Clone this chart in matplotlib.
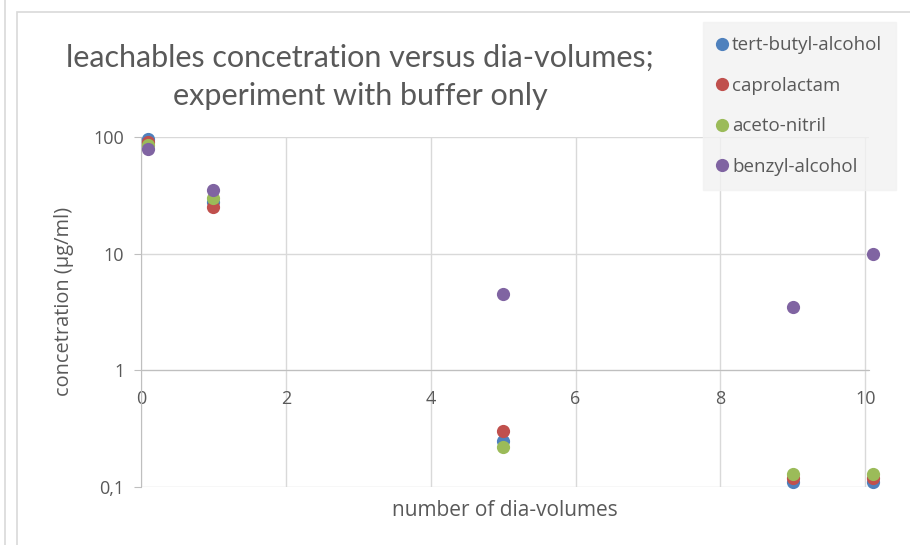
import matplotlib
matplotlib.use("Agg")
import matplotlib.pyplot as plt
from matplotlib.patches import Rectangle
from matplotlib.lines import Line2D

plt.rcParams['font.family'] = ['Open Sans', 'DejaVu Sans']

# dia-volumes sampled
dia_volumes = [0.1, 1, 5, 9, 10.1]

# concentrations (ug/ml)
tert_butyl_alcohol = [96, 28, 0.25, 0.11, 0.11]
caprolactam = [90, 25, 0.30, 0.12, 0.12]
aceto_nitril = [85, 30, 0.22, 0.13, 0.13]
benzyl_alcohol = [79, 35, 4.5, 3.5, 10]

series = [
    ("tert-butyl-alcohol", tert_butyl_alcohol, "#4F81BD"),
    ("caprolactam", caprolactam, "#C0504D"),
    ("aceto-nitril", aceto_nitril, "#9BBB59"),
    ("benzyl-alcohol", benzyl_alcohol, "#8064A2"),
]

x_ticks = [0, 2, 4, 6, 8, 10]
y_ticks = [0.1, 1, 10, 100]
y_tick_labels = ["0,1", "1", "10", "100"]

text_col = "#595959"
grid_col = "#D9D9D9"

fig = plt.figure(figsize=(9.10, 5.45), dpi=100)

# chart frame
fig.add_artist(Rectangle((17 / 910, -0.1), 1.0, 1.1 - 12 / 545, transform=fig.transFigure,
                         fill=False, edgecolor="#D9D9D9", linewidth=1.2))
fig.add_artist(Line2D([5 / 910, 5 / 910], [0, 1], transform=fig.transFigure,
                      color="#D9D9D9", linewidth=1.2))

ax = fig.add_axes([0.1549, 0.1064, 0.8000, 0.6422])
ax.set_yscale("log")
ax.set_xlim(0, 10.05)
ax.set_ylim(0.1, 100)

for name, vals, col in series:
    ax.plot(dia_volumes, vals, linestyle="none", marker="o", markersize=9.5,
            color=col, markeredgewidth=0, label=name, clip_on=False, zorder=3)

ax.set_xticks(x_ticks)
ax.set_yticks(y_ticks)
ax.set_yticklabels(y_tick_labels)
ax.minorticks_off()
ax.grid(True, color=grid_col, linewidth=1)
ax.set_axisbelow(True)

for s in ["top", "right"]:
    ax.spines[s].set_visible(False)
ax.spines["bottom"].set_position(("data", 1))
ax.spines["bottom"].set_color("#BFBFBF")
ax.spines["left"].set_color("#BFBFBF")

ax.tick_params(axis="x", length=0, pad=14, labelsize=13, labelcolor=text_col)
ax.tick_params(axis="y", length=5, color="#BFBFBF", pad=7, labelsize=13, labelcolor=text_col)

ax.set_xlabel("number of dia-volumes", fontsize=15, color=text_col)
ax.xaxis.set_label_coords(0.5, -0.038)
ax.set_ylabel("concetration (µg/ml)", fontsize=14.4, color=text_col)
ax.yaxis.set_label_coords(-0.092, 0.531)

fig.text(360 / 910, 1 - 77 / 545, "leachables concetration versus dia-volumes;\nexperiment with buffer only",
         ha="center", va="center", fontsize=22, color=text_col, linespacing=1.45,
         family=['Lato', 'DejaVu Sans'])

leg = fig.legend(loc="upper left", bbox_to_anchor=(703 / 910, 1 - 22 / 545),
                 frameon=True, fancybox=False, fontsize=13.5, labelspacing=1.2,
                 handletextpad=0.3, handlelength=0.5, borderpad=0.75, borderaxespad=0,
                 labelcolor=text_col)
leg.get_frame().set_facecolor("#F2F2F2")
leg.get_frame().set_edgecolor("#F2F2F2")
for h in leg.legend_handles:
    h.set_markersize(9.5)

fig.savefig("out.png", dpi=100)
